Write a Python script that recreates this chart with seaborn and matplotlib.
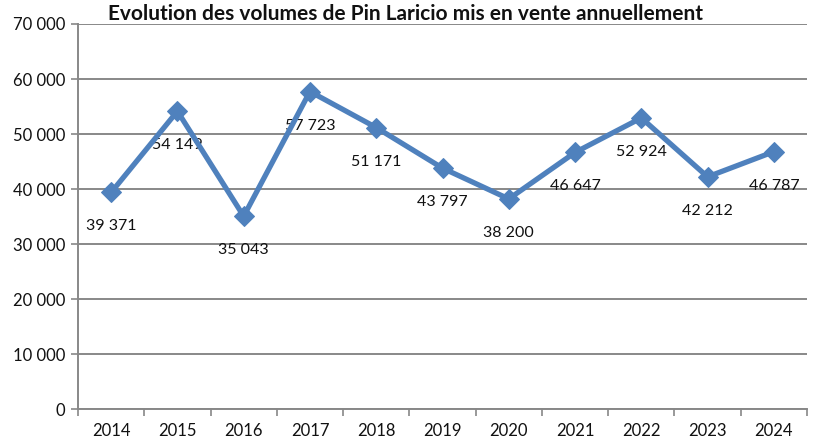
import matplotlib
matplotlib.use("Agg")
import matplotlib.pyplot as plt
import seaborn as sns
import pandas as pd
import numpy as np

years = ["2014", "2015", "2016", "2017", "2018", "2019", "2020", "2021", "2022", "2023", "2024"]
volumes = [39371, 54149, 35043, 57723, 51171, 43797, 38200, 46647, 52924, 42212, 46787]
y_ticks = [0, 10000, 20000, 30000, 40000, 50000, 60000, 70000]
title = "Evolution des volumes de Pin Laricio mis en vente annuellement"

sns.set_style("white")
plt.rcParams["font.family"] = ["Lato", "DejaVu Sans"]

df = pd.DataFrame({"pos": np.arange(len(years)), "volume": volumes})

W, H = 815, 444
fig = plt.figure(figsize=(W / 100, H / 100), dpi=100)
ax = fig.add_axes([78 / W, 1 - 409 / H, (807 - 78) / W, (409 - 24) / H])

line_color = "#4F81BD"
grid_color = "#888888"

sns.lineplot(data=df, x="pos", y="volume", ax=ax, color=line_color, linewidth=3.8,
             marker="D", markersize=10, markeredgecolor=line_color, zorder=3)

ax.set_xlim(-0.5, len(years) - 0.5)
ax.set_ylim(0, 70000)
ax.set_yticks(y_ticks)
ax.set_yticklabels([f"{v:,}".replace(",", " ") for v in y_ticks])
ax.set_xticks(np.arange(len(years)))
ax.set_xticklabels(years)
ax.set_xticks(np.arange(-0.5, len(years)), minor=True)

ax.yaxis.grid(True, color=grid_color, linewidth=1.4, zorder=0)
ax.xaxis.grid(False)
ax.set_axisbelow(True)
for side in ["top", "right"]:
    ax.spines[side].set_visible(False)
for side in ["left", "bottom"]:
    ax.spines[side].set_color(grid_color)
    ax.spines[side].set_linewidth(1.4)

ax.tick_params(axis="y", which="major", length=5, width=1.2, color=grid_color,
               direction="out", left=True, labelsize=12, pad=4, labelcolor="#111111")
ax.tick_params(axis="x", which="major", length=0, labelsize=12, pad=10, labelcolor="#111111")
ax.tick_params(axis="x", which="minor", length=5, width=1.2, color=grid_color,
               direction="out", bottom=True)
ax.set_xlabel("")
ax.set_ylabel("")

for x, v in zip(df["pos"], volumes):
    ax.annotate(f"{v:,}".replace(",", " "), (x, v), xytext=(0, -34),
                textcoords="offset pixels", ha="center", va="center",
                fontsize=11.5, color="#111111", zorder=2)

fig.text(406 / W, 1 - 14 / H, title, ha="center", va="center",
         fontsize=15, fontweight="bold", color="#111111")

fig.savefig("out.png", dpi=100, facecolor="white")
